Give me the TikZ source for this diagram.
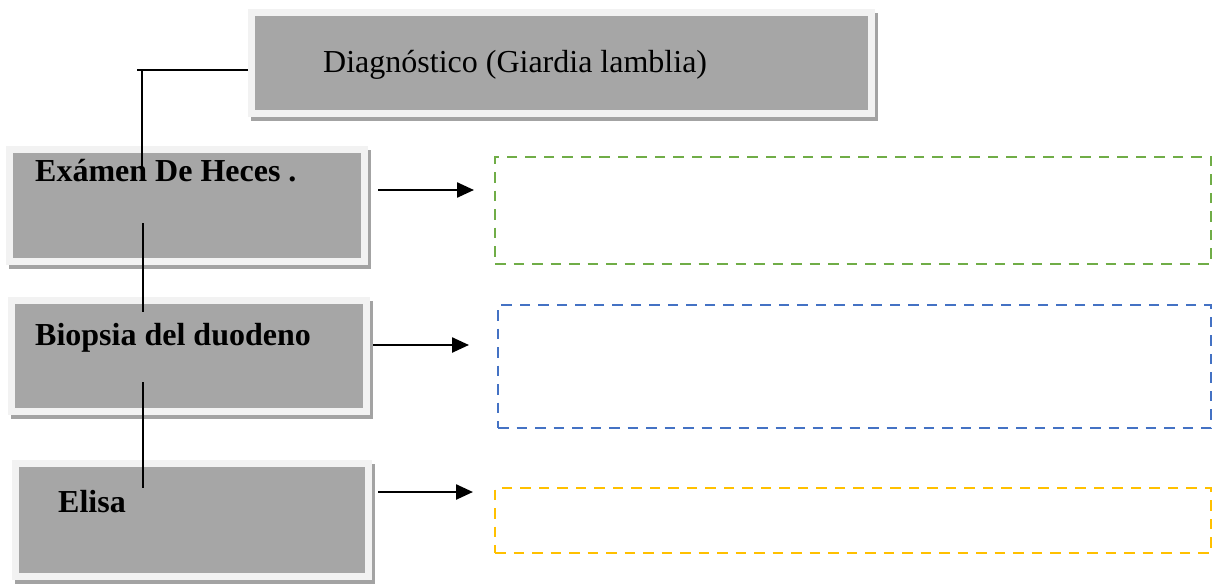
\documentclass[tikz,border=0pt]{standalone}
\usepackage{fontspec}
\setmainfont{Liberation Serif}
\usetikzlibrary{arrows.meta,backgrounds}
\definecolor{innergray}{HTML}{A6A6A6}
\definecolor{framegray}{HTML}{F2F2F2}
\definecolor{shadowgray}{HTML}{A3A3A3}
\definecolor{dgreen}{HTML}{70AD47}
\definecolor{dblue}{HTML}{4472C4}
\definecolor{dyellow}{HTML}{FFC000}
\tikzset{
  panel/.style={fill=innergray, draw=framegray, line width=7pt, inner sep=0pt, outer sep=0pt},
  dashbox/.style={draw=#1, line width=2.8pt, dash pattern=on 10.5pt off 8pt, inner sep=0pt, outer sep=0pt},
  conn/.style={draw=black, line width=2.2pt},
  arr/.style={draw=black, line width=2.4pt, -{Triangle[length=17pt,width=15pt]}},
  lbl/.style={inner sep=0pt, anchor=base west, font=\fontsize{32}{38}\selectfont},
  blbl/.style={lbl, font=\fontsize{32}{38}\selectfont\bfseries}
}
\begin{document}
\begin{tikzpicture}[x=1pt,y=-1pt]
\useasboundingbox (0,0) rectangle (1212,584);
% panels
\node[panel, minimum width=620pt, minimum height=101pt] (top) at (561.5,63) {};
\node[panel, minimum width=355pt, minimum height=112pt] (b1) at (187,205.5) {};
\node[panel, minimum width=355pt, minimum height=111pt] (b2) at (189,356) {};
\node[panel, minimum width=353pt, minimum height=113pt] (b3) at (192,520) {};
\begin{scope}[on background layer]
\foreach \n in {top,b1,b2,b3}
  \fill[shadowgray] ([shift={(-0.5,0.5)}]\n.north west) rectangle ([shift={(6.5,7.5)}]\n.south east);
\end{scope}
% texts
\node[lbl] (tt) at (323,72) {Diagnóstico (Giardia lamblia)};
\node[blbl] (t1) at (35,181) {Exámen De Heces .};
\node[blbl] (t2) at (35,345) {Biopsia del duodeno};
\node[blbl] (t3) at (58,512) {Elisa};
% dashed boxes
\node[dashbox=dgreen, minimum width=716pt, minimum height=107pt] (g1) at (853,210.5) {};
\node[dashbox=dblue, minimum width=713pt, minimum height=123pt] (g2) at (854.5,366.5) {};
\node[dashbox=dyellow, minimum width=716pt, minimum height=65pt] (g3) at (853,520.5) {};
% connector tree
\coordinate (h0) at (137,70);
\coordinate (h1) at (248,70);
\coordinate (v0) at (142,70);
\coordinate (v1) at (142,178);
\coordinate (v2) at (143,223);
\coordinate (v3) at (143,312);
\coordinate (v4) at (143,382);
\coordinate (v5) at (143,488);
\draw[conn] (h0) -- (h1);
\draw[conn] (v0) -- (v1);
\draw[conn] (v2) -- (v3);
\draw[conn] (v4) -- (v5);
% arrows
\coordinate (a1) at (378,190);
\coordinate (e1) at (474,190);
\coordinate (a2) at (373,345);
\coordinate (e2) at (469,345);
\coordinate (a3) at (378,492);
\coordinate (e3) at (473,492);
\draw[arr] (a1) -- (e1);
\draw[arr] (a2) -- (e2);
\draw[arr] (a3) -- (e3);
\end{tikzpicture}
\end{document}
